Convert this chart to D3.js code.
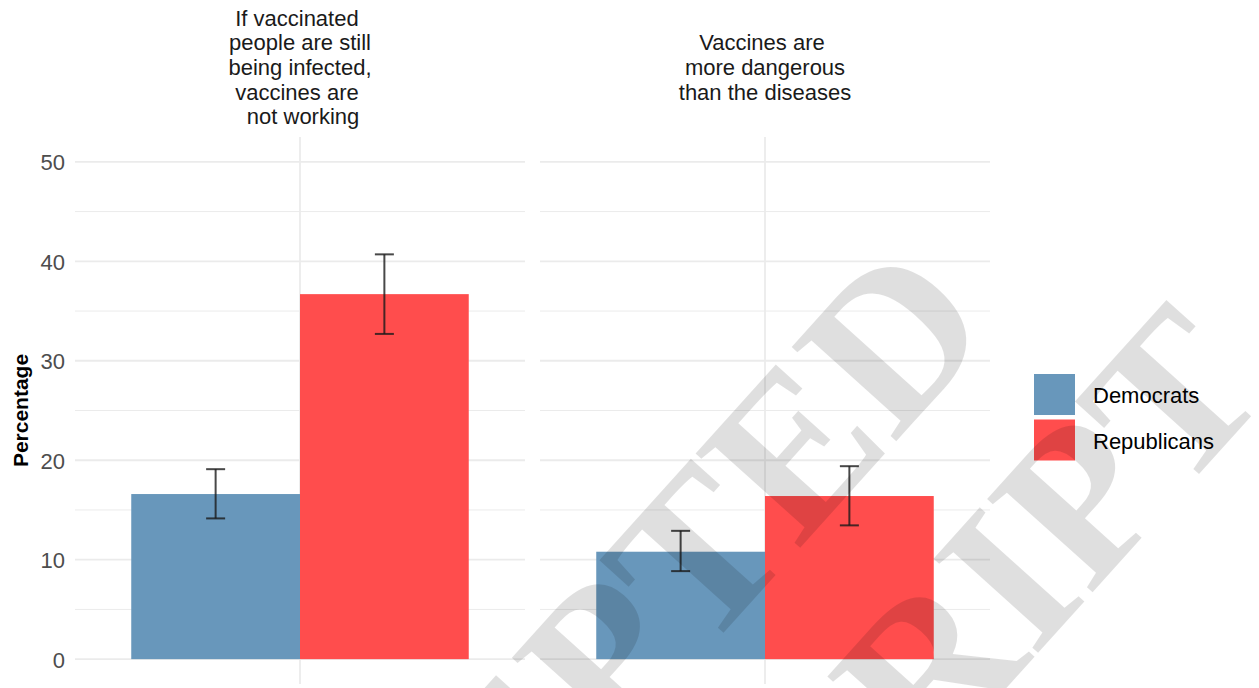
<!DOCTYPE html>
<html>
<head>
<meta charset="utf-8">
<script src="https://cdn.jsdelivr.net/npm/d3@7"></script>
<style>
  html, body { margin: 0; padding: 0; background: #ffffff; }
  svg { display: block; }
</style>
</head>
<body>
<svg id="chart" width="1259" height="688"></svg>
<script>
// Survey items (one facet each) and the two party groups
const questions = [
  "If vaccinated \npeople are still\nbeing infected,\nvaccines are \n not working",
  "Vaccines are \nmore dangerous\nthan the diseases"
];
const parties = ["Democrats", "Republicans"];

// Percentage agreeing, with 95% interval bounds, per question
const democratValues = [16.6, 10.8];
const democratLow = [14.15, 8.85];
const democratHigh = [19.1, 12.9];
const republicanValues = [36.7, 16.4];
const republicanLow = [32.7, 13.45];
const republicanHigh = [40.7, 19.4];

const yTicks = [0, 10, 20, 30, 40, 50];
const yMinorTicks = [5, 15, 25, 35, 45];
const partyColors = ["#6897bb", "#ff4d4d"];

const rows = [];
questions.forEach((q, i) => {
  rows.push({ question: q, party: parties[0], value: democratValues[i], low: democratLow[i], high: democratHigh[i] });
  rows.push({ question: q, party: parties[1], value: republicanValues[i], low: republicanLow[i], high: republicanHigh[i] });
});

const svg = d3.select("#chart");
const font = "'Liberation Sans', Arial, Helvetica, sans-serif";

// Shared y scale with ggplot-style 5% expansion
const y = d3.scaleLinear().domain([-2.5, 52.5]).range([684, 137]);

// Facet panels
const facet = d3.scaleBand().domain(questions).range([75, 990]).paddingInner(15 / 465);
const pw = facet.bandwidth();
// Discrete axis within a panel: one category at position 1, limits 0.4..1.6
const xInner = d3.scaleLinear().domain([0.4, 1.6]).range([0, pw]);
const dodge = d3.scaleBand().domain(parties).range([xInner(0.55), xInner(1.45)]).padding(0);
const color = d3.scaleOrdinal().domain(parties).range(partyColors);

const panels = svg.selectAll("g.panel").data(questions).join("g")
  .attr("class", "panel")
  .attr("transform", d => `translate(${facet(d)},0)`);

// Minor grid
panels.selectAll("line.minor").data(yMinorTicks).join("line")
  .attr("x1", 0).attr("x2", pw)
  .attr("y1", d => y(d)).attr("y2", d => y(d))
  .attr("stroke", "#ebebeb").attr("stroke-width", 1);
// Major grid
panels.selectAll("line.major").data(yTicks).join("line")
  .attr("x1", 0).attr("x2", pw)
  .attr("y1", d => y(d)).attr("y2", d => y(d))
  .attr("stroke", "#ebebeb").attr("stroke-width", 1.8);
panels.append("line")
  .attr("x1", xInner(1)).attr("x2", xInner(1))
  .attr("y1", y.range()[1]).attr("y2", y.range()[0])
  .attr("stroke", "#ebebeb").attr("stroke-width", 1.8);

// Bars
panels.selectAll("rect.bar").data(q => rows.filter(r => r.question === q)).join("rect")
  .attr("class", "bar")
  .attr("x", d => dodge(d.party))
  .attr("width", dodge.bandwidth())
  .attr("y", d => y(d.value))
  .attr("height", d => y(0) - y(d.value))
  .attr("fill", d => color(d.party));

// Error bars
const eb = panels.selectAll("g.err").data(q => rows.filter(r => r.question === q)).join("g")
  .attr("class", "err")
  .attr("transform", d => `translate(${dodge(d.party) + dodge.bandwidth() / 2},0)`)
  .attr("stroke", "#1a1a1a").attr("stroke-opacity", 0.8).attr("stroke-width", 2);
eb.append("line").attr("x1", 0).attr("x2", 0).attr("y1", d => y(d.low)).attr("y2", d => y(d.high));
eb.append("line").attr("x1", -9.5).attr("x2", 9.5).attr("y1", d => y(d.low)).attr("y2", d => y(d.low));
eb.append("line").attr("x1", -9.5).attr("x2", 9.5).attr("y1", d => y(d.high)).attr("y2", d => y(d.high));

// Facet strip titles, vertically centred in the strip
panels.each(function (q) {
  const lines = q.split("\n");
  const t = d3.select(this).append("text")
    .attr("text-anchor", "middle")
    .attr("font-family", font).attr("font-size", 22).attr("fill", "#1a1a1a")
    .attr("xml:space", "preserve")
    .style("white-space", "pre");
  lines.forEach((ln, i) => {
    t.append("tspan")
      .attr("x", xInner(1))
      .attr("y", 75 + (i - (lines.length - 1) / 2) * 24.6)
      .text(ln);
  });
});

// Y axis labels (left of the first panel)
const yAxis = d3.axisLeft(y).tickValues(yTicks).tickSize(0).tickPadding(10);
const ya = svg.append("g").attr("transform", `translate(${facet(questions[0])},0)`).call(yAxis);
ya.select(".domain").remove();
ya.selectAll("text")
  .attr("font-family", font).attr("font-size", 22).attr("fill", "#4d4d4d")
  .attr("dy", "0.36em");

svg.append("text")
  .attr("transform", `translate(28,${(y.range()[0] + y.range()[1]) / 2}) rotate(-90)`)
  .attr("text-anchor", "middle")
  .attr("font-family", font).attr("font-size", 21).attr("font-weight", "bold").attr("fill", "#000")
  .text("Percentage");

// Legend
const legend = svg.append("g").attr("transform", "translate(1034,374)");
const li = legend.selectAll("g").data(parties).join("g")
  .attr("transform", (d, i) => `translate(0,${i * 45.5})`);
li.append("rect").attr("width", 41).attr("height", 41).attr("fill", d => color(d));
li.append("text").attr("x", 59).attr("y", 29)
  .attr("font-family", font).attr("font-size", 22).attr("fill", "#000")
  .text(d => d);

// Manuscript watermark over the figure
const wm = svg.append("g")
  .attr("transform", "translate(602,768) rotate(-48)")
  .attr("font-family", "'Liberation Serif', 'Times New Roman', serif")
  .attr("font-size", 215)
  .attr("font-weight", "bold")
  .attr("text-anchor", "middle")
  .attr("fill", "#000").attr("fill-opacity", 0.125);
wm.append("text").attr("x", 0).attr("y", 0).text("ACCEPTED");
wm.append("text").attr("x", 0).attr("y", 247).text("MANUSCRIPT");
</script>
</body>
</html>
